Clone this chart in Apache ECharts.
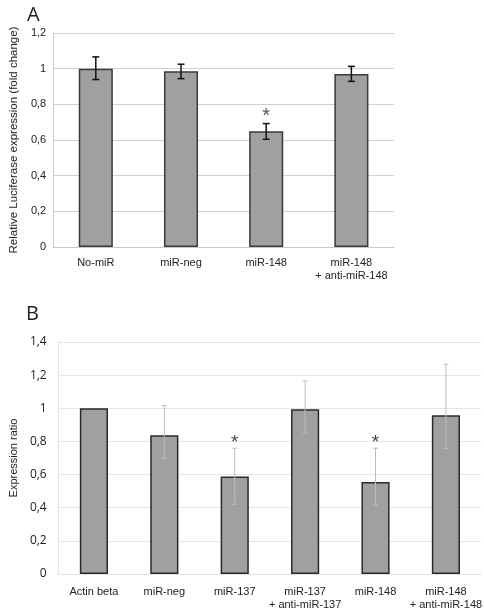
<!DOCTYPE html>
<html><head><meta charset="utf-8">
<script src="https://cdn.jsdelivr.net/npm/echarts@6/dist/echarts.min.js"></script>
<style>html,body{margin:0;padding:0;background:#fff}#c{width:484px;height:611px}</style>
</head><body><div id="c"></div>
<script>
// Panel A
const catsA = ['No-miR', 'miR-neg', 'miR-148', 'miR-148\n+ anti-miR-148'];
const valsA = [1.0, 0.985, 0.649, 0.970];
const errLowA = [0.939, 0.944, 0.604, 0.929];
const errHighA = [1.066, 1.025, 0.692, 1.013];
const starA = [false, false, true, false];
const ticksA = [0, 0.2, 0.4, 0.6, 0.8, 1, 1.2];
// Panel B
const catsB = ['Actin beta', 'miR-neg', 'miR-137', 'miR-137\n+ anti-miR-137', 'miR-148', 'miR-148\n+ anti-miR-148'];
const valsB = [1.0, 0.837, 0.589, 0.994, 0.555, 0.958];
const errLowB = [null, 0.697, 0.421, 0.851, 0.417, 0.757];
const errHighB = [null, 1.016, 0.759, 1.164, 0.759, 1.266];
const starB = [false, false, true, false, true, false];
const ticksB = [0, 0.2, 0.4, 0.6, 0.8, 1, 1.2, 1.4];

const fmt = v => String(+v.toFixed(1)).replace('.', ',');
const arial = 'Liberation Sans, Arial, sans-serif';

function errItems(low, high) {
  const out = [];
  low.forEach((l, i) => { if (l != null) out.push([i, l, high[i]]); });
  return out;
}
function starItems(stars, high) {
  const out = [];
  stars.forEach((s, i) => { if (s) out.push([i, high[i]]); });
  return out;
}
function errRender(color, width, cap) {
  return function (params, api) {
    const lo = api.coord([api.value(0), api.value(1)]);
    const hi = api.coord([api.value(0), api.value(2)]);
    const x = lo[0];
    const st = { stroke: color, lineWidth: width };
    return { type: 'group', children: [
      { type: 'line', shape: { x1: x, y1: lo[1], x2: x, y2: hi[1] }, style: st },
      { type: 'line', shape: { x1: x - cap, y1: lo[1], x2: x + cap, y2: lo[1] }, style: st },
      { type: 'line', shape: { x1: x - cap, y1: hi[1], x2: x + cap, y2: hi[1] }, style: st }
    ]};
  };
}
function starRender(size, color, off) {
  return function (params, api) {
    const p = api.coord([api.value(0), api.value(1)]);
    return { type: 'text', style: { text: '*', x: p[0], y: p[1] - off, align: 'center', verticalAlign: 'middle',
      font: size + 'px ' + arial, fill: color } };
  };
}

const chart = echarts.init(document.getElementById('c'), null, { renderer: 'canvas' });
chart.setOption({
  animation: false,
  backgroundColor: '#fff',
  title: [
    { text: 'A', left: 22, top: 0, textStyle: { fontFamily: 'Open Sans, sans-serif', fontWeight: 'normal', fontSize: 20, color: '#222' } },
    { text: 'B', left: 21, top: 299, textStyle: { fontFamily: 'Open Sans, sans-serif', fontWeight: 'normal', fontSize: 20, color: '#222' } }
  ],
  grid: [
    { left: 42, top: 33, width: 352, height: 214 },
    { left: 46, top: 342, width: 436, height: 233 }
  ],
  xAxis: [
    { type: 'category', gridIndex: 0, data: catsA,
      axisLine: { lineStyle: { color: '#c8c8c8' } }, axisTick: { show: false },
      axisLabel: { margin: 9, fontFamily: arial, fontSize: 11, color: '#222', lineHeight: 13, interval: 0 } },
    { type: 'category', gridIndex: 1, data: catsB,
      axisLine: { lineStyle: { color: '#e0e0e0' } }, axisTick: { show: false },
      axisLabel: { margin: 11, fontFamily: arial, fontSize: 11, color: '#222', lineHeight: 13, interval: 0 } }
  ],
  yAxis: [
    { type: 'value', gridIndex: 0, min: ticksA[0], max: ticksA[ticksA.length - 1], interval: 0.2,
      name: 'Relative Luciferase expression (fold change)', nameLocation: 'middle', nameGap: 29,
      nameTextStyle: { fontFamily: arial, fontSize: 11.5, color: '#222' },
      axisLine: { show: true, lineStyle: { color: '#d0d0d0' } }, axisTick: { show: false },
      splitLine: { lineStyle: { color: '#d0d0d0' } },
      axisLabel: { formatter: fmt, fontFamily: arial, fontSize: 11, color: '#222', margin: 7 } },
    { type: 'value', gridIndex: 1, min: ticksB[0], max: ticksB[ticksB.length - 1], interval: 0.2,
      name: 'Expression ratio', nameLocation: 'middle', nameGap: 33,
      nameTextStyle: { fontFamily: arial, fontSize: 11, color: '#222' },
      axisLine: { show: true, lineStyle: { color: '#e6e6e6' } }, axisTick: { show: false },
      splitLine: { lineStyle: { color: '#e6e6e6' } },
      axisLabel: { formatter: fmt, fontFamily: 'Open Sans, sans-serif', fontSize: 12, color: '#222', margin: 12 } }
  ],
  series: [
    { type: 'bar', xAxisIndex: 0, yAxisIndex: 0, data: valsA, barWidth: '40%',
      itemStyle: { color: '#a0a0a0', borderColor: '#3a3a3a', borderWidth: 1.5 } },
    { type: 'custom', xAxisIndex: 0, yAxisIndex: 0, data: errItems(errLowA, errHighA),
      renderItem: errRender('#111', 1.5, 3.5), z: 5 },
    { type: 'custom', xAxisIndex: 0, yAxisIndex: 0, data: starItems(starA, errHighA),
      renderItem: starRender(20, '#555', 7), z: 5 },
    { type: 'bar', xAxisIndex: 1, yAxisIndex: 1, data: valsB, barWidth: '40%',
      itemStyle: { color: '#a0a0a0', borderColor: '#2a2a2a', borderWidth: 1.5 } },
    { type: 'custom', xAxisIndex: 1, yAxisIndex: 1, data: errItems(errLowB, errHighB),
      renderItem: errRender('#bdbdbd', 1, 2.5), z: 5 },
    { type: 'custom', xAxisIndex: 1, yAxisIndex: 1, data: starItems(starB, errHighB),
      renderItem: starRender(19, '#444', 5), z: 5 }
  ]
});
</script></body></html>
